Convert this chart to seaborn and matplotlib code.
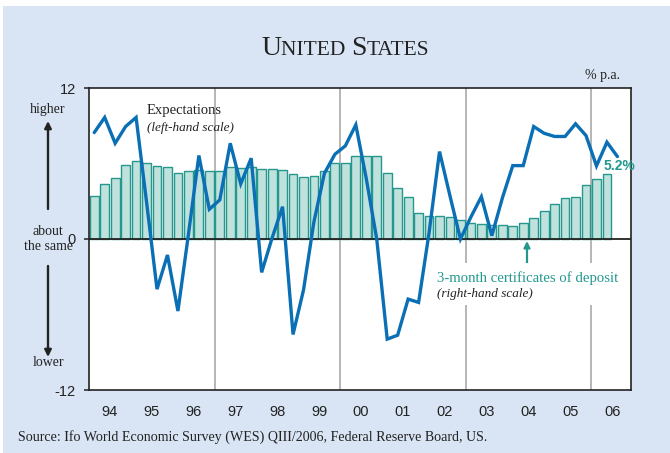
import matplotlib
matplotlib.use("Agg")
import matplotlib.pyplot as plt
from matplotlib.patches import Rectangle
import numpy as np
import pandas as pd
import seaborn as sns

# ---- data -------------------------------------------------------------
year_labels = ["94", "95", "96", "97", "98", "99", "00", "01", "02", "03", "04", "05", "06"]
first_year = 1994

# 3-month certificates of deposit, % p.a., quarterly 1994Q1-2006Q2 (right-hand scale)
cd_rate = [3.45, 4.35, 4.85, 5.86, 6.18, 6.02, 5.78, 5.70, 5.28, 5.38,
           5.46, 5.41, 5.44, 5.70, 5.65, 5.70, 5.54, 5.60, 5.52, 5.20,
           4.91, 4.99, 5.38, 6.07, 6.02, 6.58, 6.63, 6.58, 5.25, 4.08,
           3.32, 2.04, 1.80, 1.80, 1.75, 1.49, 1.27, 1.17, 1.12, 1.09,
           1.03, 1.27, 1.70, 2.25, 2.81, 3.24, 3.37, 4.32, 4.75, 5.2]

# WES interest-rate expectations, balance, quarterly 1994Q1-2006Q3 (left-hand scale)
expectations = [70.5, 80.5, 63.4, 74.5, 80.5, 24.5, -33.2, -10.6, -47.7, 2.9,
                55.3, 19.7, 25.9, 63.4, 36.5, 53.5, -22.1, 0.7, 21.4, -63.2,
                -33.8, 11.5, 43.5, 56.1, 61.7, 75.6, 40.0, 0.0, -66.3, -63.7,
                -39.8, -42.0, 4.0, 57.9, 28.5, 0.0, 14.6, 28.0, 2.2, 27.0,
                48.6, 48.6, 74.5, 70.0, 67.9, 67.9, 76.3, 68.5, 48.4, 64.1,
                54.6]

# ---- style ------------------------------------------------------------
sns.set_style("white")
plt.rcParams["font.family"] = ["Liberation Sans", "DejaVu Sans"]
plt.rcParams["axes.unicode_minus"] = False

SERIF = ["Liberation Serif", "DejaVu Serif"]
BG = "#D9E5F4"
BAR_FILL = "#BFE2DD"
BAR_EDGE = "#25978C"
LINE = "#0A6FB5"
TEAL = "#23998E"
DARK = "#222222"

W, H = 670, 453
fig = plt.figure(figsize=(W / 100, H / 100), dpi=100, facecolor="white")


def fx(x):
    return x / W


def fy(y):
    return 1 - y / H


# light blue panel behind everything
fig.add_artist(Rectangle((fx(3), 0), 1 - fx(3), fy(6), transform=fig.transFigure,
                         facecolor=BG, edgecolor="none", zorder=-10))

ax = fig.add_axes([fx(89), fy(390), fx(631) - fx(89), fy(88) - fy(390)])
ax.set_facecolor("white")

# quarter mid-points
cd_pos = first_year + (np.arange(len(cd_rate)) + 0.5) / 4
exp_pos = first_year + (np.arange(len(expectations)) + 0.5) / 4
cd_df = pd.DataFrame({"quarter": cd_pos, "rate": cd_rate})
exp_df = pd.DataFrame({"quarter": exp_pos, "balance": expectations})

sns.barplot(data=cd_df, x="quarter", y="rate", native_scale=True, orient="x",
            width=0.84, color=BAR_FILL, edgecolor=BAR_EDGE, linewidth=1.0,
            saturation=1, ax=ax, zorder=2)

ax.set_xlim(first_year, first_year + 12.95)
ax.set_ylim(-12, 12)
ax.xaxis.label.set_visible(False)
ax.yaxis.label.set_visible(False)

# year separators every three years
for yr in (1997, 2000, 2003, 2006):
    ax.axvline(yr, color="#A9A9A9", lw=1.2, zorder=1)
ax.axhline(0, color=DARK, lw=1.3, zorder=3)

ax.set_xticks(first_year + np.arange(len(year_labels)) + 0.5)
ax.set_xticklabels(year_labels)
ax.tick_params(axis="x", length=0, pad=11, labelsize=10.5, labelcolor=DARK)

ax.yaxis.tick_right()
ax.set_yticks([-12, 0, 12])
ax.set_yticklabels(["-12", "0", "12"])
ax.tick_params(axis="y", direction="out", length=3.5, width=1.1, pad=6,
               labelsize=10.5, labelcolor=DARK, color=DARK)
for s in ax.spines.values():
    s.set_color(DARK)
    s.set_linewidth(1.2)

# expectations on the left-hand scale
ax2 = ax.twinx()
sns.lineplot(data=exp_df, x="quarter", y="balance", ax=ax2, color=LINE,
             linewidth=2.4, solid_joinstyle="miter")
ax2.set_ylim(-100, 100)
ax2.set_yticks([])
ax2.xaxis.label.set_visible(False)
ax2.yaxis.label.set_visible(False)
ax2.set_xlim(ax.get_xlim())
for s in ax2.spines.values():
    s.set_visible(False)

# latest CD rate label
ax.annotate(f"{cd_rate[-1]:.1f}%", xy=(cd_pos[-1], cd_rate[-1]),
            xytext=(-2.5, 0.5), textcoords="offset points", ha="left", va="bottom",
            fontsize=10, fontweight="bold", color=TEAL, zorder=6)

# ---- title in small caps ---------------------------------------------
base = fy(55)
parts = [("U", 20), ("NITED ", 15.5), ("S", 20), ("TATES", 15.5)]
prev = fig.text(fx(261), base, parts[0][0], fontsize=parts[0][1], family=SERIF,
                color=DARK, va="baseline", ha="left")
for txt, size in parts[1:]:
    prev = ax.annotate(txt, xy=(1, base), xycoords=(prev, "figure fraction"),
                       va="baseline", ha="left", fontsize=size, family=SERIF,
                       color=DARK, annotation_clip=False)

fig.text(fx(585), fy(79), "% p.a.", fontsize=10, family=SERIF, color=DARK,
         ha="left", va="baseline")

# ---- series annotations ----------------------------------------------
fig.text(fx(147), fy(114), "Expectations", fontsize=10.5, family=SERIF,
         color=DARK, ha="left", va="baseline")
fig.text(fx(147), fy(131), "(left-hand scale)", fontsize=9.5, family=SERIF,
         style="italic", color=DARK, ha="left", va="baseline")

fig.add_artist(Rectangle((fx(433), fy(305)), fx(625) - fx(433), fy(263) - fy(305),
                         transform=fig.transFigure, facecolor="white",
                         edgecolor="none", zorder=2))
fig.text(fx(437), fy(282), "3-month certificates of deposit", fontsize=10.6,
         family=SERIF, color=TEAL, ha="left", va="baseline", zorder=3)
fig.text(fx(437), fy(297), "(right-hand scale)", fontsize=9.5, family=SERIF,
         style="italic", color=DARK, ha="left", va="baseline", zorder=3)
ax.annotate("", xy=(527, H - 241), xycoords="figure pixels",
            xytext=(527, H - 264), textcoords="figure pixels",
            arrowprops=dict(arrowstyle="-|>", color=TEAL, lw=1.6,
                            mutation_scale=9, shrinkA=0, shrinkB=0),
            annotation_clip=False)

# ---- left-hand verbal scale ------------------------------------------
fig.text(fx(48), fy(112.5), "higher", fontsize=10, family=SERIF, color=DARK,
         ha="center", va="baseline")
fig.text(fx(48), fy(250), "about\nthe same", fontsize=10, family=SERIF,
         color=DARK, ha="center", va="baseline", multialignment="center",
         linespacing=1.2)
fig.text(fx(48), fy(366.5), "lower", fontsize=10, family=SERIF, color=DARK,
         ha="center", va="baseline")
ax.annotate("", xy=(48, H - 121), xycoords="figure pixels",
            xytext=(48, H - 209), textcoords="figure pixels",
            arrowprops=dict(arrowstyle="-|>", color=DARK, lw=1.7,
                            mutation_scale=10, shrinkA=0, shrinkB=0),
            annotation_clip=False)
ax.annotate("", xy=(48, H - 357), xycoords="figure pixels",
            xytext=(48, H - 266), textcoords="figure pixels",
            arrowprops=dict(arrowstyle="-|>", color=DARK, lw=1.7,
                            mutation_scale=10, shrinkA=0, shrinkB=0),
            annotation_clip=False)

fig.text(fx(18), fy(441), "Source: Ifo World Economic Survey (WES) QIII/2006, "
         "Federal Reserve Board, US.", fontsize=10.1, family=SERIF, color=DARK,
         ha="left", va="baseline")

fig.savefig("out.png", dpi=100, facecolor=fig.get_facecolor())
